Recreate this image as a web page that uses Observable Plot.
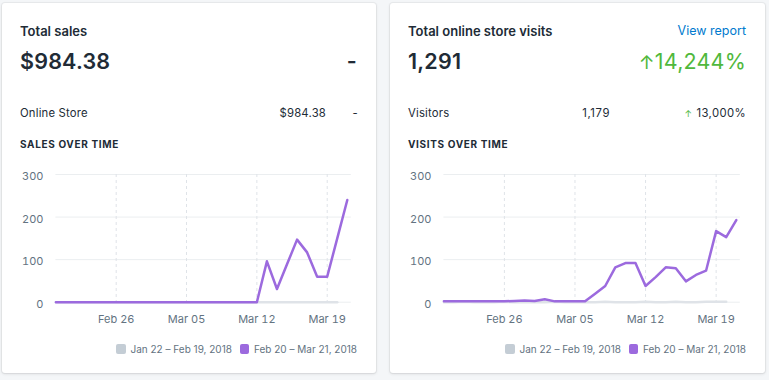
<!DOCTYPE html>
<html>
<head>
<meta charset="utf-8">
<script src="https://cdn.jsdelivr.net/npm/d3@7"></script>
<script src="https://cdn.jsdelivr.net/npm/@observablehq/plot@0.6"></script>
<style>
  html, body { margin: 0; padding: 0; }
  body { width: 769px; height: 380px; background: #f4f6f8; position: relative; overflow: hidden;
         font-family: Inter, "Noto Sans", Roboto, sans-serif; color: #212b36; }
  .card { position: absolute; top: 3px; height: 370px; background: #fff; border-radius: 3px;
          box-shadow: 0 0 0 1px rgba(63,63,68,0.05), 0 1px 3px 0 rgba(63,63,68,0.15); }
  .t { position: absolute; white-space: nowrap; line-height: 1; }
  .title { font-size: 13px; font-weight: 600; }
  .big { font-size: 21.5px; font-weight: 600; letter-spacing: 0.2px; }
  .row { font-size: 11.3px; color: #212b36; letter-spacing: 0.2px; }
  .sec { font-size: 10px; font-weight: 700; letter-spacing: 0.65px; }
  .legend { position: absolute; display: flex; align-items: center; font-size: 10px; color: #637381; white-space: nowrap; }
  .sw { width: 9.5px; height: 9.5px; border-radius: 2px; display: inline-block; margin-right: 4.5px; }
  .chart { position: absolute; }
</style>
</head>
<body>
<div class="card" id="c1" style="left:2px;width:374px;"></div>
<div class="card" id="c2" style="left:390px;width:375px;"></div>
<div id="texts"></div>
<script>
// ---- data ----
const periodCurrent = "Feb 20 – Mar 21, 2018";
const periodPrevious = "Jan 22 – Feb 19, 2018";
const currentStart = "2018-02-20";
const previousStart = "2018-01-22";
const xTickDates = ["2018-02-26", "2018-03-05", "2018-03-12", "2018-03-19"];
const yTicks = [0, 100, 200, 300];

// Sales per day, Feb 20 – Mar 21 (30 days)
const salesCurrent = [0,0,0,0,0,0,0,0,0,0,0,0,0,0,0,0,0,0,0,0,0, 96,31,89,147,117,60,60,150,240];
// Sales per day, Jan 22 – Feb 19 (29 days)
const salesPrevious = [0,0,0,0,0,0,0,0,0,0,0,0,0,0,0,0,0,0,0,0,0,0,0,0,0,0,0,0,0];
// Visits per day, Feb 20 – Mar 21
const visitsCurrent = [2,2,2,2,2,2,2,3,4,3,7,2,2,2,2,20,38,82,92,92,38,59,82,80,49,64,74,167,153,193];
// Visits per day, Jan 22 – Feb 19
const visitsPrevious = [0,0,1,0,0,0,1,0,0,0,0,1,0,0,0,0,1,0,0,0,1,0,0,1,0,0,1,1,1];

const purple = "#9c6ade";
const grey = "#dfe3e8";
const greySwatch = "#c4cdd5";

// ---- helpers ----
const parse = d3.utcParse("%Y-%m-%d");
function series(values, start, shiftDays) {
  const s = parse(start);
  return values.map((v, i) => ({date: d3.utcDay.offset(s, i + shiftDays), value: v}));
}

function makeChart(cur, prev, left, width) {
  const start = parse(currentStart);
  const end = d3.utcDay.offset(start, cur.length - 1);
  const curData = series(cur, currentStart, 0);
  const prevData = series(prev, previousStart, 29);
  const ticks = xTickDates.map(parse);
  const chart = Plot.plot({
    width, height: 170,
    marginTop: 14, marginBottom: 28.3, marginLeft: 53.4, marginRight: 29.2,
    style: {fontSize: "11px", fontFamily: "Inter, 'Noto Sans', sans-serif", color: "#637381", background: "transparent"},
    x: {type: "utc", domain: [start, end], label: null},
    y: {domain: [0, 300], label: null},
    marks: [
      Plot.ruleY(yTicks, {stroke: "#ebeef0", strokeWidth: 1, insetRight: -4}),
      Plot.ruleX(ticks, {stroke: "#dfe3e8", strokeDasharray: "3,3", insetBottom: -3}),
      Plot.axisY(yTicks, {tickSize: 0, tickPadding: 12.4, dy: 2, label: null}),
      Plot.axisX(ticks, {tickSize: 0, tickPadding: 12.5, tickFormat: d3.utcFormat("%b %d"), label: null}),
      Plot.line(prevData, {x: "date", y: "value", stroke: grey, strokeWidth: 2.5}),
      Plot.line(curData, {x: "date", y: "value", stroke: purple, strokeWidth: 2.5, strokeLinejoin: "round"})
    ]
  });
  chart.classList.add("chart");
  chart.style.left = left + "px";
  chart.style.top = "160px";
  document.body.appendChild(chart);
}

makeChart(salesCurrent, salesPrevious, 2, 374);
makeChart(visitsCurrent, visitsPrevious, 390, 375);

// ---- texts ----
const T = document.getElementById("texts");
function text(str, cls, x, baseline, size, opts = {}) {
  const el = document.createElement("div");
  el.className = "t " + cls;
  el.textContent = str;
  const top = baseline - 0.864 * size;
  el.style.top = top + "px";
  if (opts.right != null) { el.style.right = (769 - opts.right) + "px"; el.style.textAlign = "right"; }
  else el.style.left = x + "px";
  if (opts.color) el.style.color = opts.color;
  if (opts.style) Object.assign(el.style, opts.style);
  T.appendChild(el);
  return el;
}
// left card
text("Total sales", "title", 20, 36, 13);
text("$984.38", "big", 20, 69.5, 21.5);
text("-", "big", 0, 69.5, 21.5, {right: 357});
text("Online Store", "row", 20, 118, 11.3);
text("$984.38", "row", 0, 118, 11.3, {right: 326});
text("-", "row", 0, 118, 11.3, {right: 358});
text("SALES OVER TIME", "sec", 20, 148, 10);
// right card
text("Total online store visits", "title", 408, 36, 13);
text("View report", "row", 0, 36, 12.5, {right: 746, color: "#007ace", style: {fontSize: "12.5px", letterSpacing: "0px"}});
text("1,291", "big", 408, 69.5, 21.5);
const big = text("", "big", 0, 69.5, 21.5, {right: 746, color: "#50b83c", style: {fontWeight: 400}});
big.innerHTML = '<span style="font-size:19px">↑</span>14,244%';
text("Visitors", "row", 408, 118, 11.3);
text("1,179", "row", 0, 118, 11.3, {right: 610, style: {letterSpacing: "0.6px"}});
const v = text("", "row", 0, 118, 11.3, {right: 746, style: {letterSpacing: "0.4px"}});
v.innerHTML = '<span style="color:#50b83c;font-size:9px;margin-right:4px">↑</span>13,000%';
text("VISITS OVER TIME", "sec", 408, 148, 10);

// legends
function legend(right) {
  const el = document.createElement("div");
  el.className = "legend";
  el.style.right = (769 - right) + "px";
  el.style.top = "343px";
  el.style.height = "12px";
  el.innerHTML = `<span class="sw" style="background:${greySwatch}"></span><span>${periodPrevious}</span>` +
                 `<span class="sw" style="background:${purple};margin-left:8px"></span><span>${periodCurrent}</span>`;
  document.body.appendChild(el);
}
legend(357);
legend(746);
</script>
</body>
</html>
